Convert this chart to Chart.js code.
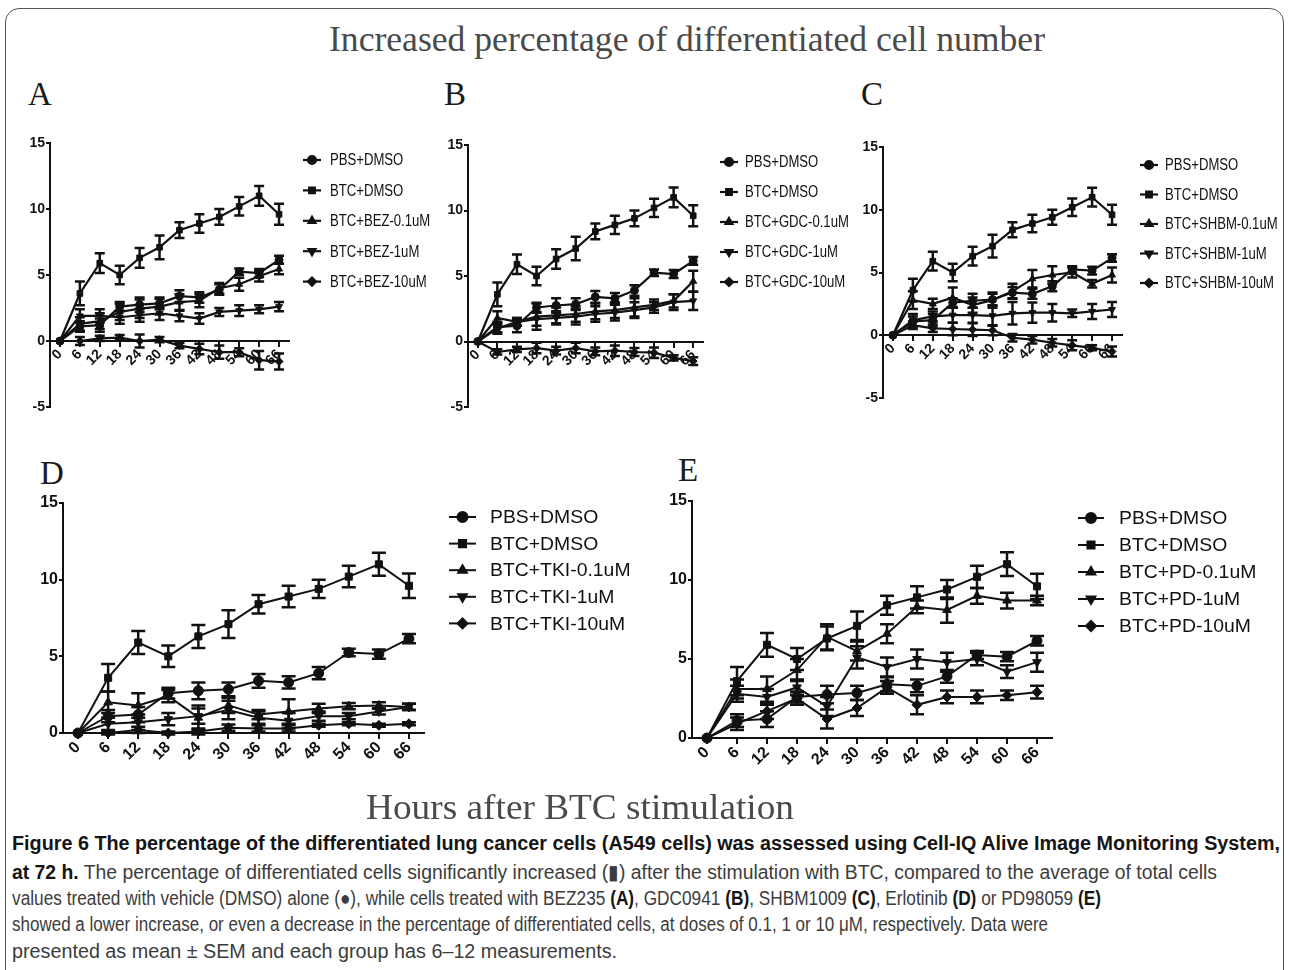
<!DOCTYPE html>
<html><head><meta charset="utf-8">
<script src="https://cdn.jsdelivr.net/npm/chart.js@4.4.1/dist/chart.umd.min.js"></script>
<style>
html,body{margin:0;padding:0;background:#fff;}
body{width:1290px;height:970px;position:relative;overflow:hidden;}
canvas{position:absolute;}
.t{position:absolute;white-space:nowrap;transform-origin:0 50%;}
.serif{font-family:'Liberation Serif','Times New Roman',serif;color:#4a4a4a;}
.letter{font-family:'Liberation Serif','Times New Roman',serif;color:#1a1a1a;font-size:33px;line-height:33px;}
.cap{font-family:'Liberation Sans',Arial,sans-serif;font-size:20px;line-height:20px;color:#3c3c3c;left:12px;}
.cap b{color:#151515;}
#frame{position:absolute;left:5px;top:8px;width:1279px;height:1000px;border:1.5px solid #555;border-radius:14px;box-sizing:border-box;}
</style></head>
<body>
<div id="frame"></div>
<div class="t serif" id="title" style="left:329px;top:21px;font-size:36px;line-height:36px;">Increased percentage of differentiated cell number</div>
<div class="t letter" style="left:28px;top:78px;">A</div>
<div class="t letter" style="left:444px;top:78px;">B</div>
<div class="t letter" style="left:861px;top:78px;">C</div>
<div class="t letter" style="left:40px;top:457px;">D</div>
<div class="t letter" style="left:678px;top:454px;">E</div>
<canvas id="cA"></canvas>
<canvas id="cB"></canvas>
<canvas id="cC"></canvas>
<canvas id="cD"></canvas>
<canvas id="cE"></canvas>
<div class="t serif" id="xtitle" style="left:366px;top:789px;font-size:36px;line-height:36px;">Hours after BTC stimulation</div>
<div class="t cap" id="l1" style="top:833px;"><b>Figure 6 The percentage of the differentiated lung cancer cells (A549 cells) was assessed using Cell-IQ Alive Image Monitoring System,</b></div>
<div class="t cap" id="l2" style="top:862px;"><b>at 72 h.</b> The percentage of differentiated cells significantly increased (▮) after the stimulation with BTC, compared to the average of total cells</div>
<div class="t cap" id="l3" style="top:888px;">values treated with vehicle (DMSO) alone (●), while cells treated with BEZ235 <b>(A)</b>, GDC0941 <b>(B)</b>, SHBM1009 <b>(C)</b>, Erlotinib <b>(D)</b> or PD98059 <b>(E)</b></div>
<div class="t cap" id="l4" style="top:914px;">showed a lower increase, or even a decrease in the percentage of differentiated cells, at doses of 0.1, 1 or 10 μM, respectively. Data were</div>
<div class="t cap" id="l5" style="top:941px;">presented as mean ± SEM and each group has 6–12 measurements.</div>
<script>
// ---------------- DATA ----------------
const hours = ['0','6','12','18','24','30','36','42','48','54','60','66'];
const yTicksABC = [15, 10, 5, 0, -5];
const yTicksDE = [15, 10, 5, 0];

const btcDmso    = [0, 3.6, 5.9, 5.0, 6.3, 7.1, 8.4, 8.9, 9.4, 10.2, 11.0, 9.6];
const btcDmsoSem = [0, 0.9, 0.75, 0.7, 0.75, 0.9, 0.6, 0.7, 0.6, 0.7, 0.75, 0.8];
const pbsDmso    = [0, 1.1, 1.2, 2.6, 2.75, 2.85, 3.4, 3.3, 3.9, 5.25, 5.15, 6.15];
const pbsDmsoSem = [0, 0.4, 0.5, 0.35, 0.55, 0.45, 0.45, 0.4, 0.4, 0.25, 0.3, 0.3];

const bez01    = [0, 1.3, 1.5, 2.2, 2.45, 2.6, 2.95, 3.05, 4.0, 4.3, 4.9, 5.45];
const bez01Sem = [0, 0.5, 0.6, 0.6, 0.7, 0.6, 0.6, 0.5, 0.4, 0.5, 0.4, 0.4];
const bez1     = [0, 1.9, 1.9, 1.8, 1.95, 2.1, 1.9, 1.7, 2.2, 2.3, 2.4, 2.6];
const bez1Sem  = [0, 0.5, 0.5, 0.5, 0.5, 0.5, 0.4, 0.4, 0.3, 0.4, 0.3, 0.35];
const bez10    = [0, 0.0, 0.2, 0.25, 0.0, 0.1, -0.35, -0.6, -0.85, -0.85, -1.45, -1.55];
const bez10Sem = [0, 0.3, 0.2, 0.2, 0.5, 0.2, 0.2, 0.4, 0.5, 0.3, 0.7, 0.6];

const gdc01    = [0, 1.8, 1.5, 1.9, 2.0, 2.1, 2.3, 2.4, 2.6, 2.8, 3.1, 4.6];
const gdc01Sem = [0, 0.5, 0.3, 1.0, 0.6, 0.6, 0.6, 0.6, 0.7, 0.4, 0.5, 0.8];
const gdc1     = [0, 1.0, 1.5, 1.7, 1.8, 1.9, 2.1, 2.2, 2.4, 2.6, 3.0, 3.1];
const gdc1Sem  = [0, 0.4, 0.3, 0.5, 0.5, 0.6, 0.6, 0.6, 0.6, 0.4, 0.6, 0.7];
const gdc10    = [0, -0.8, -0.6, -0.5, -0.7, -0.5, -0.75, -0.7, -0.8, -0.85, -1.25, -1.5];
const gdc10Sem = [0, 0.2, 0.2, 0.4, 0.3, 0.4, 0.3, 0.4, 0.3, 0.4, 0.2, 0.3];

const shbm01    = [0, 2.8, 2.5, 3.0, 2.4, 2.8, 3.5, 4.5, 4.8, 5.0, 4.1, 4.8];
const shbm01Sem = [0, 0.7, 0.4, 0.8, 0.6, 0.6, 0.6, 0.7, 0.7, 0.4, 0.3, 0.6];
const shbm1     = [0, 1.2, 1.5, 1.6, 1.6, 1.55, 1.75, 1.8, 1.8, 1.75, 1.9, 2.05];
const shbm1Sem  = [0, 0.5, 0.4, 0.6, 0.6, 0.8, 0.9, 0.8, 0.7, 0.3, 0.6, 0.6];
const shbm10    = [0, 0.8, 0.55, 0.5, 0.45, 0.4, -0.2, -0.35, -0.6, -0.8, -1.0, -1.3];
const shbm10Sem = [0, 0.3, 0.3, 0.5, 0.5, 0.4, 0.3, 0.3, 0.3, 0.4, 0.2, 0.4];

const tki01    = [0, 2.0, 1.8, 2.4, 1.0, 1.8, 1.2, 1.4, 1.6, 1.75, 1.8, 1.7];
const tki01Sem = [0, 0.7, 0.8, 0.4, 0.8, 0.5, 0.3, 0.8, 0.3, 0.2, 0.2, 0.2];
const tki1     = [0, 0.6, 0.7, 0.9, 1.1, 1.5, 1.0, 0.8, 1.1, 1.1, 1.4, 1.7];
const tki1Sem  = [0, 0.4, 0.5, 0.4, 0.5, 0.6, 0.4, 0.5, 0.3, 0.2, 0.2, 0.2];
const tki10    = [0, 0.0, 0.2, 0.0, 0.1, 0.35, 0.3, 0.3, 0.5, 0.6, 0.5, 0.6];
const tki10Sem = [0, 0.1, 0.2, 0.1, 0.2, 0.2, 0.2, 0.2, 0.1, 0.1, 0.1, 0.1];

const pd01    = [0, 3.1, 3.1, 4.3, 6.4, 5.5, 6.6, 8.3, 8.1, 9.0, 8.7, 8.7];
const pd01Sem = [0, 0.6, 0.8, 0.7, 0.8, 0.6, 0.6, 0.4, 0.8, 0.5, 0.5, 0.3];
const pd1     = [0, 2.8, 2.6, 3.2, 2.0, 5.1, 4.5, 5.0, 4.8, 5.0, 4.2, 4.8];
const pd1Sem  = [0, 0.5, 0.5, 0.5, 0.6, 0.7, 0.6, 0.6, 0.6, 0.4, 0.4, 0.6];
const pd10    = [0, 0.9, 1.7, 2.5, 1.2, 1.9, 3.2, 2.1, 2.6, 2.6, 2.7, 2.9];
const pd10Sem = [0, 0.4, 0.5, 0.4, 0.6, 0.5, 0.4, 0.6, 0.4, 0.4, 0.3, 0.4];

const labelsA = ['PBS+DMSO','BTC+DMSO','BTC+BEZ-0.1uM','BTC+BEZ-1uM','BTC+BEZ-10uM'];
const labelsB = ['PBS+DMSO','BTC+DMSO','BTC+GDC-0.1uM','BTC+GDC-1uM','BTC+GDC-10uM'];
const labelsC = ['PBS+DMSO','BTC+DMSO','BTC+SHBM-0.1uM','BTC+SHBM-1uM','BTC+SHBM-10uM'];
const labelsD = ['PBS+DMSO','BTC+DMSO','BTC+TKI-0.1uM','BTC+TKI-1uM','BTC+TKI-10uM'];
const labelsE = ['PBS+DMSO','BTC+DMSO','BTC+PD-0.1uM','BTC+PD-1uM','BTC+PD-10uM'];

// ---------------- STYLE ----------------
const INK = '#111';
const pointStyles = ['circle','rect','triangle','triangle','rectRot'];
const pointRots = [0, 0, 0, 180, 0];
const wide = "'Liberation Sans',Arial,sans-serif";

const errorBars = {
  id: 'errorBars',
  afterDatasetsDraw(chart, args, o) {
    const ctx = chart.ctx, ys = chart.scales.y;
    chart.data.datasets.forEach((ds, i) => {
      const meta = chart.getDatasetMeta(i);
      ctx.save();
      ctx.strokeStyle = INK; ctx.lineWidth = o.width;
      meta.data.forEach((pt, j) => {
        const e = ds.sem[j]; if (!e) return;
        const v = ds.data[j];
        const yt = ys.getPixelForValue(v + e), yb = ys.getPixelForValue(v - e);
        ctx.beginPath();
        ctx.moveTo(pt.x, yt); ctx.lineTo(pt.x, yb);
        ctx.moveTo(pt.x - o.cap, yt); ctx.lineTo(pt.x + o.cap, yt);
        ctx.moveTo(pt.x - o.cap, yb); ctx.lineTo(pt.x + o.cap, yb);
        ctx.stroke();
      });
      ctx.restore();
    });
  }
};

const sideLegend = {
  id: 'sideLegend',
  afterDraw(chart, args, o) {
    const ctx = chart.ctx;
    chart.data.datasets.forEach((ds, i) => {
      const y = o.y0 + i * o.dy;
      ctx.save();
      ctx.strokeStyle = INK; ctx.fillStyle = INK; ctx.lineWidth = o.lw;
      ctx.beginPath(); ctx.moveTo(o.x0, y); ctx.lineTo(o.x1, y); ctx.stroke();
      Chart.helpers.drawPoint(ctx, {pointStyle: ds.pointStyle, rotation: ds.pointRotation, radius: o.r, borderWidth: 1}, (o.x0 + o.x1) / 2, y);
      ctx.font = o.font; ctx.textBaseline = 'middle'; ctx.textAlign = 'left';
      ctx.translate(o.tx, y + 1);
      ctx.scale(o.sx, 1);
      ctx.fillText(ds.label, 0, 0);
      ctx.restore();
    });
  }
};

function makePanel(id, p) {
  const L = p.area.l - 45, T = p.area.t - 15;
  const W = p.right - L, H = p.bottom - T;
  const cv = document.getElementById(id);
  cv.width = W; cv.height = H;
  cv.style.left = L + 'px'; cv.style.top = T + 'px';
  cv.style.width = W + 'px'; cv.style.height = H + 'px';
  const datasets = p.series.map((s, i) => ({
    label: p.labels[i], data: s[0], sem: s[1],
    borderColor: INK, backgroundColor: INK, borderWidth: p.lw,
    pointStyle: pointStyles[i], pointRotation: pointRots[i], rotation: pointRots[i],
    pointRadius: p.r, pointBorderWidth: 1, pointBackgroundColor: INK, pointBorderColor: INK,
    tension: 0, clip: false, fill: false
  }));
  new Chart(cv, {
    type: 'line',
    data: {labels: hours, datasets},
    options: {
      responsive: false, animation: false, devicePixelRatio: 1,
      events: [],
      layout: {padding: {left: 0, top: 15, right: W - (p.area.r - L), bottom: H - (p.area.b - T)}},
      plugins: {
        legend: {display: false}, tooltip: {enabled: false},
        errorBars: {width: p.ebw, cap: p.cap},
        sideLegend: {x0: p.leg.x0 - L, x1: p.leg.x1 - L, tx: p.leg.tx - L, y0: p.leg.y0 - T, dy: p.leg.dy, r: p.r, lw: p.lw, font: p.legFont, sx: p.leg.sx}
      },
      scales: {
        x: {
          type: 'category', offset: true, position: {y: 0},
          grid: {display: true, drawOnChartArea: false, drawTicks: true, tickLength: 5, offset: false, color: INK, lineWidth: 2},
          border: {display: true, color: INK, width: 2},
          ticks: {autoSkip: false, maxRotation: 45, minRotation: 45, color: INK, font: p.tickFont, padding: 0}
        },
        y: {
          min: p.ticks[p.ticks.length - 1], max: p.ticks[0],
          afterFit(s) { s.width = 45; },
          afterBuildTicks(s) { s.ticks = p.ticks.slice().reverse().map(v => ({value: v})); },
          grid: {display: true, drawOnChartArea: false, drawTicks: true, tickLength: 4, color: INK, lineWidth: 2},
          border: {display: true, color: INK, width: 2},
          ticks: {color: INK, font: p.tickFont, padding: 1}
        }
      }
    },
    plugins: [errorBars, sideLegend]
  });
}

const smallTick = {family: wide, size: 14, weight: 'bold'};
const bigTick = {family: wide, size: 16, weight: 'bold'};

makePanel('cA', {
  area: {l: 50, r: 289, t: 143, b: 407}, right: 440, bottom: 420, ticks: yTicksABC,
  labels: labelsA, series: [[pbsDmso, pbsDmsoSem], [btcDmso, btcDmsoSem], [bez01, bez01Sem], [bez1, bez1Sem], [bez10, bez10Sem]],
  r: 4, lw: 2.2, ebw: 2.5, cap: 5, tickFont: smallTick,
  leg: {x0: 303, x1: 321, tx: 330, y0: 160, dy: 30.4, sx: 0.82}, legFont: "16px " + wide
});
makePanel('cB', {
  area: {l: 468, r: 703, t: 145, b: 407}, right: 858, bottom: 420, ticks: yTicksABC,
  labels: labelsB, series: [[pbsDmso, pbsDmsoSem], [btcDmso, btcDmsoSem], [gdc01, gdc01Sem], [gdc1, gdc1Sem], [gdc10, gdc10Sem]],
  r: 4, lw: 2.2, ebw: 2.5, cap: 5, tickFont: smallTick,
  leg: {x0: 720, x1: 738, tx: 745, y0: 162, dy: 30, sx: 0.82}, legFont: "16px " + wide
});
makePanel('cC', {
  area: {l: 883, r: 1122, t: 147, b: 398}, right: 1278, bottom: 412, ticks: yTicksABC,
  labels: labelsC, series: [[pbsDmso, pbsDmsoSem], [btcDmso, btcDmsoSem], [shbm01, shbm01Sem], [shbm1, shbm1Sem], [shbm10, shbm10Sem]],
  r: 4, lw: 2.2, ebw: 2.5, cap: 5, tickFont: smallTick,
  leg: {x0: 1140, x1: 1158, tx: 1165, y0: 165, dy: 29.5, sx: 0.82}, legFont: "16px " + wide
});
makePanel('cD', {
  area: {l: 63, r: 424, t: 503, b: 733}, right: 660, bottom: 790, ticks: yTicksDE,
  labels: labelsD, series: [[pbsDmso, pbsDmsoSem], [btcDmso, btcDmsoSem], [tki01, tki01Sem], [tki1, tki1Sem], [tki10, tki10Sem]],
  r: 5, lw: 2, ebw: 2.5, cap: 7, tickFont: bigTick,
  leg: {x0: 449, x1: 476, tx: 490, y0: 517, dy: 26.6, sx: 1.02}, legFont: "19px " + wide
});
makePanel('cE', {
  area: {l: 692, r: 1052, t: 501, b: 738}, right: 1270, bottom: 795, ticks: yTicksDE,
  labels: labelsE, series: [[pbsDmso, pbsDmsoSem], [btcDmso, btcDmsoSem], [pd01, pd01Sem], [pd1, pd1Sem], [pd10, pd10Sem]],
  r: 5, lw: 2, ebw: 2.5, cap: 7, tickFont: bigTick,
  leg: {x0: 1078, x1: 1104, tx: 1119, y0: 518, dy: 27, sx: 1.02}, legFont: "19px " + wide
});

// fit text blocks to their widths in the reference
function fitOne(id, w) {
  const el = document.getElementById(id);
  const r = el.getBoundingClientRect().width;
  el.style.transform = 'scaleX(' + (w / r) + ')';
}
fitOne('title', 716);
fitOne('xtitle', 428);
fitOne('l1', 1268);
fitOne('l2', 1205);
fitOne('l3', 1089);
fitOne('l4', 1036);
fitOne('l5', 605);
</script>
</body></html>
